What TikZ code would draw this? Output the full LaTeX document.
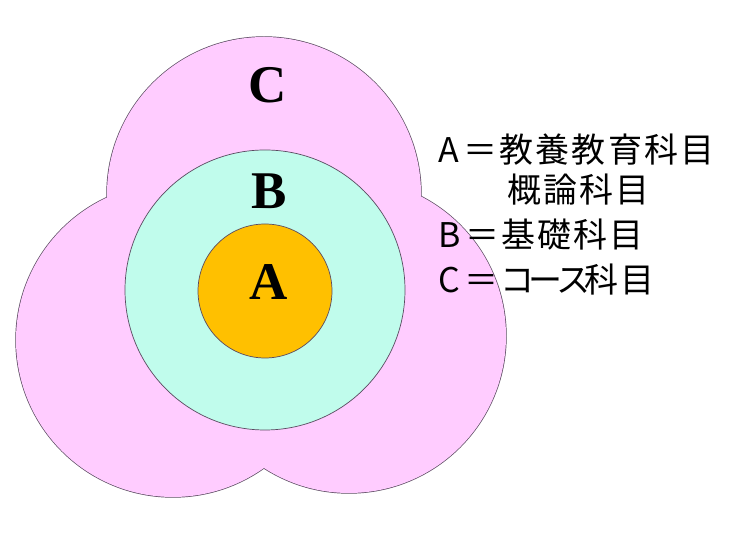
\documentclass[tikz,border=0pt]{standalone}
\usepackage{fontspec}
\setmainfont{Liberation Serif}
\newfontfamily\jpfont[LetterSpace=6]{Noto Sans CJK JP}
\definecolor{cpink}{HTML}{FFCCFF}
\definecolor{ccyan}{HTML}{C0FCEC}
\definecolor{corange}{HTML}{FFC000}
\definecolor{cline}{HTML}{5A4A60}
\begin{document}
\begin{tikzpicture}[x=1pt,y=1pt,
  ring/.style={draw=cline,line width=0.7pt},
  biglabel/.style={font=\fontsize{53}{60}\selectfont\bfseries,inner sep=0pt},
  legend/.style={font=\jpfont\fontsize{34}{38}\selectfont,anchor=west,inner sep=0pt}]
\useasboundingbox (0,0) rectangle (742,553);
\fill[white] (0,0) rectangle (742,553);
% C region: union of three circles (outline trick)
\coordinate (ctop) at (264,359);
\coordinate (cleft) at (173,213);
\coordinate (cright) at (349,217);
\foreach \c in {ctop,cleft,cright}
  \draw[cline,line width=1.4pt] (\c) circle (157);
\foreach \c in {ctop,cleft,cright}
  \fill[cpink] (\c) circle (157);
% B and A
\draw[ring,fill=ccyan] (265,263) circle (140);
\draw[ring,fill=corange] (265,262) circle (67);
\node[biglabel] (lc) at (268,468) {C};
\node[biglabel] (lb) at (269,362) {B};
\node[biglabel] (la) at (269,271) {A};
% legend
\node[legend] (t1) at (438,403) {A\kern5pt＝教養教育科目};
\node[legend] (t2) at (507,363) {概論科目};
\node[legend] (t3) at (438,318) {B\kern5pt＝基礎科目};
\node[legend] (t4) at (438,273) {C\kern5pt＝コ\kern-6ptー\kern-6ptス\kern-6pt科目};
\end{tikzpicture}
\end{document}
